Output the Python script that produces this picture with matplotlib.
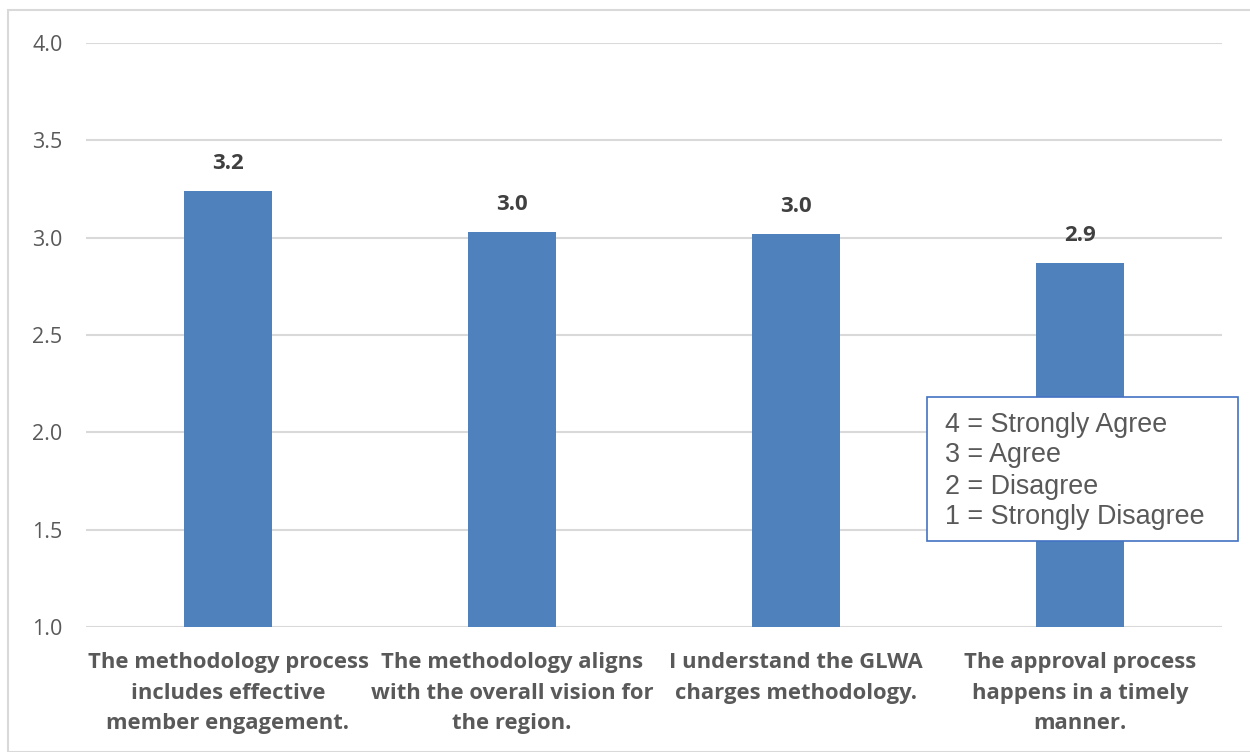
import numpy as np
import matplotlib.pyplot as plt
from matplotlib.patches import Rectangle

# Data
categories = [
    'The methodology process\nincludes effective\nmember engagement.',
    'The methodology aligns\nwith the overall vision for\nthe region.',
    'I understand the GLWA\ncharges methodology.',
    'The approval process\nhappens in a timely\nmanner.',
]
values = [3.24, 3.03, 3.02, 2.87]
value_labels = ['3.2', '3.0', '3.0', '2.9']
y_ticks = [1.0, 1.5, 2.0, 2.5, 3.0, 3.5, 4.0]
scale_text = '4 = Strongly Agree\n3 = Agree\n2 = Disagree\n1 = Strongly Disagree'


def draw_chart():
    fig = plt.figure(figsize=(12.5, 7.52), dpi=100)
    ax = fig.add_axes([86 / 1250, 1 - 627 / 752, (1222 - 86) / 1250, (627 - 43) / 752])

    # outer chart border
    fig.patches.append(Rectangle((8 / 1250, 0), 1.2, 1 - 10 / 752, transform=fig.transFigure,
                                 fill=False, edgecolor='#D9D9D9', linewidth=1.5))

    x = np.arange(len(categories))
    bars = ax.bar(x, values, width=0.31, bottom=0, color='#4F81BD', zorder=3)

    ax.set_ylim(1.0, 4.0)
    ax.set_xlim(-0.5, len(categories) - 0.5)
    ax.set_yticks(y_ticks)
    ax.set_yticklabels(['%.1f' % t for t in y_ticks], fontsize=15.5, color='#595959',
                       fontfamily='Open Sans')
    ax.yaxis.grid(True, color='#D9D9D9', linewidth=1.5, zorder=0)
    ax.tick_params(axis='y', length=0, pad=17)
    ax.tick_params(axis='x', length=0, pad=18)
    ax.set_xticks(x)
    ax.set_xticklabels(categories, fontsize=15.8, fontweight='bold', color='#595959',
                       fontfamily='Open Sans', linespacing=1.6)
    for s in ax.spines.values():
        s.set_visible(False)

    for b, lab in zip(bars, value_labels):
        ax.annotate(lab, (b.get_x() + b.get_width() / 2, b.get_height()),
                    xytext=(0, 12), textcoords='offset points', ha='center', va='bottom',
                    fontsize=16, fontweight='bold', color='#404040', fontfamily='Open Sans')

    fig.text(945 / 1250, 1 - 471 / 752, scale_text, fontsize=19.4, color='#595959',
             fontfamily='Liberation Sans', va='center', ha='left', linespacing=1.25,
             zorder=5)
    fig.patches.append(Rectangle((927 / 1250, 1 - 541 / 752), 311 / 1250, 144 / 752,
                                 transform=fig.transFigure, facecolor='white',
                                 edgecolor='#4472C4', linewidth=1.2, zorder=4))

    fig.savefig('out.png', dpi=100)


if __name__ == '__main__':
    draw_chart()
